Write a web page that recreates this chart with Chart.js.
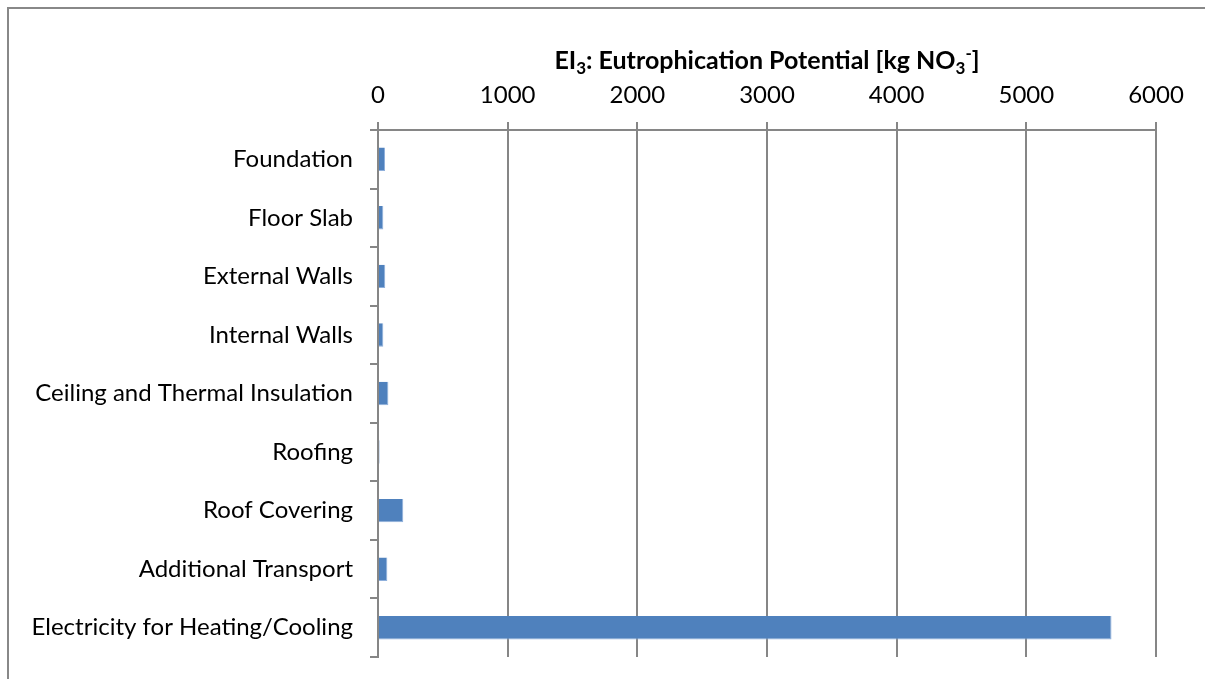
<!DOCTYPE html>
<html>
<head>
<meta charset="utf-8">
<script src="https://cdn.jsdelivr.net/npm/chart.js@4"></script>
<style>
	html, body { margin: 0; padding: 0; background: #fff; overflow: hidden; }
	.frame {
		position: absolute; left: 7px; top: 7px; width: 1196px; height: 670px;
		border-left: 2px solid #888; border-top: 2px solid #888;
	}
	.wrap { position: absolute; left: 0; top: 0; width: 1205px; height: 679px; }
</style>
</head>
<body>
<div class="frame"></div>
<div class="wrap"><canvas id="eiChart"></canvas></div>
<script>
"use strict";

const categories = [
	"Foundation",
	"Floor Slab",
	"External Walls",
	"Internal Walls",
	"Ceiling and Thermal Insulation",
	"Roofing",
	"Roof Covering",
	"Additional Transport",
	"Electricity for Heating/Cooling"
];
const eutrophication = [54, 41, 56, 41, 80, 12, 195, 72, 5657];
const xTicks = [0, 1000, 2000, 3000, 4000, 5000, 6000];

const FONT = "Lato, 'Open Sans', sans-serif";
const GRID = "#868686";

// title with subscript / superscript pieces, centred on the plot area
const titlePlugin = {
	id: "eiTitle",
	afterDraw(chart) {
		const ctx = chart.ctx;
		const parts = [
			{ t: "EI", size: 25, dy: 0 },
			{ t: "3", size: 17, dy: 5 },
			{ t: ": Eutrophication Potential [kg NO", size: 25, dy: 0 },
			{ t: "3", size: 17, dy: 5 },
			{ t: "-", size: 17, dy: -10 },
			{ t: "]", size: 25, dy: 0 }
		];
		ctx.save();
		let total = 0;
		parts.forEach(p => {
			ctx.font = `bold ${p.size}px ${FONT}`;
			p.w = ctx.measureText(p.t).width;
			total += p.w;
		});
		const area = chart.chartArea;
		let x = (area.left + area.right) / 2 - total / 2;
		const y = 69;
		ctx.fillStyle = "#000";
		ctx.textBaseline = "alphabetic";
		ctx.textAlign = "left";
		parts.forEach(p => {
			ctx.font = `bold ${p.size}px ${FONT}`;
			ctx.fillText(p.t, x, y + p.dy);
			x += p.w;
		});
		ctx.restore();
	}
};

const ctx = document.getElementById("eiChart").getContext("2d");
const eiChart = new Chart(ctx, {
	type: "bar",
	data: {
		labels: categories,
		datasets: [{
			data: eutrophication,
			backgroundColor: "#4F81BD",
			borderColor: "#8FB0DC",
			borderWidth: { right: 1, bottom: 1, top: 0, left: 0 },
			borderSkipped: "left",
			categoryPercentage: 0.4,
			barPercentage: 1
		}]
	},
	options: {
		indexAxis: "y",
		responsive: true,
		maintainAspectRatio: false,
		animation: false,
		layout: { padding: { left: 0, right: 49, top: 0, bottom: 22 } },
		plugins: {
			legend: { display: false },
			tooltip: { enabled: false }
		},
		scales: {
			x: {
				position: "top",
				min: 0,
				max: 6000,
				afterBuildTicks(scale) {
					scale.ticks = xTicks.map(v => ({ value: v }));
				},
				afterFit(scale) {
					scale.height = 130;
				},
				ticks: {
					color: "#000",
					padding: 12,
					font: { family: FONT, size: 24 },
					callback: v => String(v)
				},
				grid: { color: GRID, lineWidth: 2, tickLength: 8 },
				border: { color: GRID, width: 2 }
			},
			y: {
				afterFit(scale) {
					scale.width = 378;
					scale.paddingTop = 0;
					scale.paddingBottom = 0;
				},
				ticks: {
					color: "#000",
					padding: 17,
					font: { family: FONT, size: 24 }
				},
				grid: {
					offset: true,
					drawOnChartArea: false,
					drawTicks: true,
					tickLength: 8,
					color: GRID,
					lineWidth: 2
				},
				border: { color: GRID, width: 2 }
			}
		}
	},
	plugins: [titlePlugin]
});
</script>
</body>
</html>
